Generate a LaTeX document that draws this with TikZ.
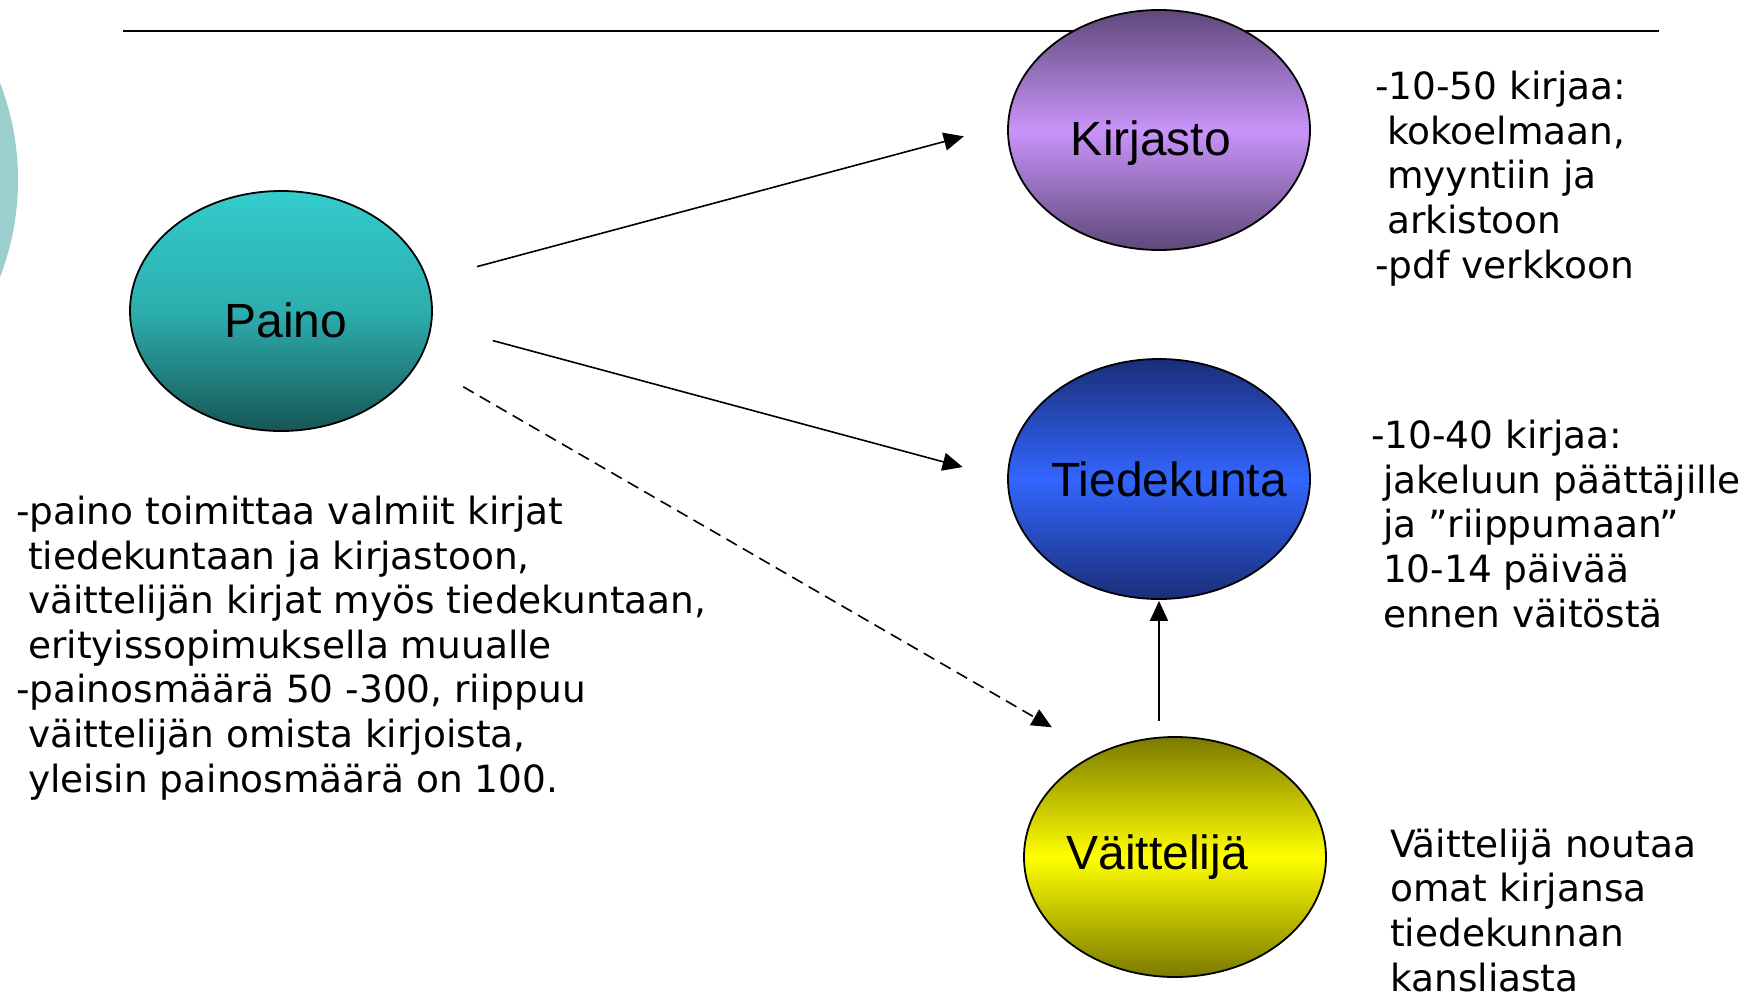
\documentclass[tikz,border=0pt]{standalone}
\usepackage{fontspec}
\usepackage{tikz}
\usetikzlibrary{arrows.meta}
\usetikzlibrary{shapes.geometric}
\newfontfamily\txtfont{DejaVu Sans}
\newfontfamily\lblfont{Liberation Sans}
\definecolor{arcteal}{HTML}{9BCFCD}
\definecolor{painotop}{HTML}{33CCCC}
\definecolor{painomid}{HTML}{2DAEAE}
\definecolor{painobot}{HTML}{175656}
\definecolor{kirjdark}{HTML}{5E4878}
\definecolor{kirjlight}{HTML}{C994FA}
\definecolor{tiedark}{HTML}{1A2E78}
\definecolor{tielight}{HTML}{3366FF}
\definecolor{vaitdark}{HTML}{7A7A00}
\definecolor{vaitlight}{HTML}{FFFF00}
\newcommand{\indt}{\hspace*{.318em}}

\begin{document}
\begin{tikzpicture}[x=1pt,y=-1pt,
    blob/.style={ellipse,draw=black,line width=1.8pt,minimum width=302pt,minimum height=240pt,inner sep=0pt},
    lbl/.style={anchor=base,inner sep=0pt,font=\lblfont\fontsize{48}{48}\selectfont},
    note/.style={anchor=base west,inner sep=0pt,align=left,font=\txtfont\fontsize{37.5}{44.6}\selectfont},
    conn/.style={line width=1.6pt,-{Triangle[length=20pt,width=18pt]}}]
   \useasboundingbox (0,0) rectangle (1748,993);
   \begin{scope}
     \clip (0,0) rectangle (1748,993);
     \fill[arcteal] (-252,180) circle [radius=270];
   \end{scope}
   \draw[line width=2.4pt] (123,31) -- (1659,31);
   %%
   \node[blob,top color=painotop,bottom color=painobot,middle color=painomid] (Paino) at (281,311) {};
   \node[blob,top color=kirjdark,bottom color=kirjdark,middle color=kirjlight] (Kirjasto) at (1159,130) {};
   \node[blob,top color=tiedark,bottom color=tiedark,middle color=tielight] (Tiedekunta) at (1159,479) {};
   \node[blob,top color=vaitdark,bottom color=vaitdark,middle color=vaitlight] (Vaittelija) at (1175,857) {};
   \node[lbl] (PainoLbl) at (286,337) {Paino};
   \node[lbl] (KirjastoLbl) at (1151,155) {Kirjasto};
   \node[lbl] (TiedekuntaLbl) at (1169,496) {Tiedekunta};
   \node[lbl] (VaittelijaLbl) at (1157,869) {Väittelijä};
   %%
   \path[conn] (Paino.12) edge[shorten <=51pt,shorten >=45pt] (Kirjasto.178);
   \path[conn] (Paino.-5) edge[shorten <=63pt,shorten >=46pt] (Tiedekunta.west);
   \path[conn,dash pattern=on 12pt off 7pt] (Paino.-20) edge[shorten <=51pt,shorten >=52pt] (Vaittelija.127);
   \path[conn] (Tiedekunta.south |- Vaittelija.north) edge[shorten <=15pt,shorten >=1pt] (Tiedekunta.south);
   %% notes: anchored at the baseline of their last line
   \node[note] (PainoNote) at (16,792) {-paino toimittaa valmiit kirjat\\\indt tiedekuntaan ja kirjastoon,\\\indt väittelijän kirjat myös tiedekuntaan,\\\indt erityissopimuksella muualle\\-painosmäärä 50 -300, riippuu\\\indt väittelijän omista kirjoista,\\\indt yleisin painosmäärä on 100.};
   \node[note] (KirjastoNote) at (1375,278) {-10-50 kirjaa:\\\indt kokoelmaan,\\\indt myyntiin ja\\\indt arkistoon\\-pdf verkkoon};
   \node[note] (TiedekuntaNote) at (1371,627) {-10-40 kirjaa:\\\indt jakeluun päättäjille\\\indt ja ”riippumaan”\\\indt 10-14 päivää\\\indt ennen väitöstä};
   \node[note] (VaittelijaNote) at (1390,991) {Väittelijä noutaa\\omat kirjansa\\tiedekunnan\\kansliasta};
\end{tikzpicture}
\end{document}
